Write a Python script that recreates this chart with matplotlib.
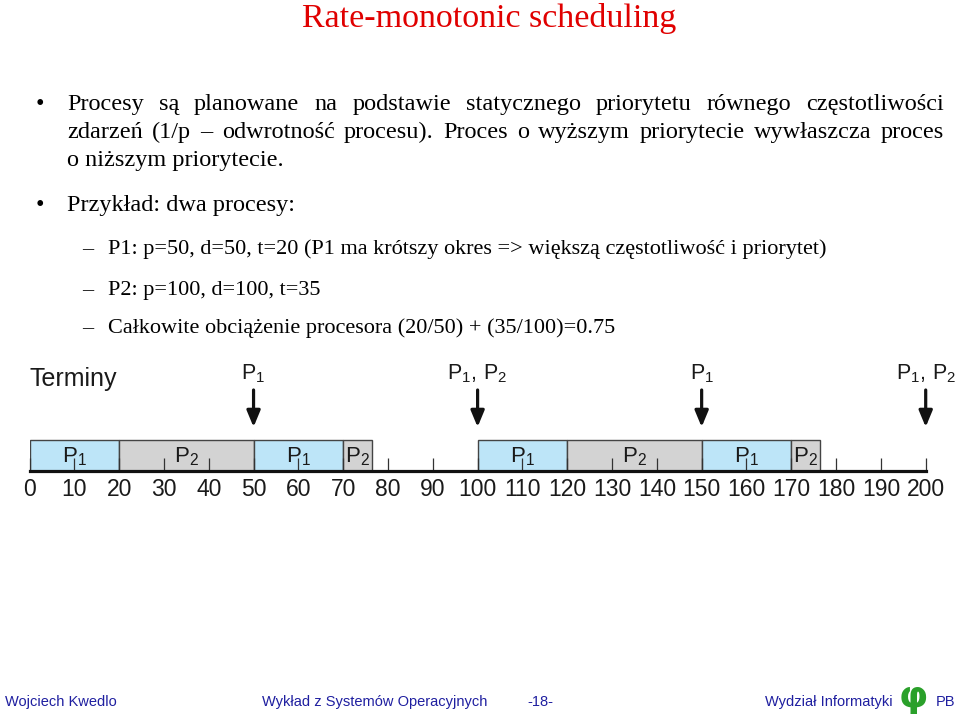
import matplotlib
matplotlib.use("Agg")
import matplotlib.pyplot as plt
from matplotlib.patches import Rectangle

# ---------------- data ----------------
seg_start = [0, 20, 50, 70, 100, 120, 150, 170]
seg_end = [20, 50, 70, 76.5, 120, 150, 170, 176.5]
seg_proc = ["1", "2", "1", "2", "1", "2", "1", "2"]
deadline_t = [50, 100, 150, 200]
deadline_lbl = [["1"], ["1", "2"], ["1"], ["1", "2"]]
tick_vals = list(range(0, 201, 10))
tick_lbls = [str(v) for v in tick_vals]

title = "Rate-monotonic scheduling"
bullet1_lines = [
    "Procesy są planowane na podstawie statycznego priorytetu równego częstotliwości",
    "zdarzeń (1/p – odwrotność procesu). Proces o wyższym priorytecie wywłaszcza proces",
    "o niższym priorytecie.",
]
bullet2 = "Przykład: dwa procesy:"
sub_items = [
    "P1: p=50, d=50, t=20 (P1 ma krótszy okres => większą częstotliwość i priorytet)",
    "P2: p=100, d=100, t=35",
    "Całkowite obciążenie procesora (20/50) + (35/100)=0.75",
]
footer_items = ["Wojciech Kwedlo", "Wykład z Systemów Operacyjnych", "-18-", "Wydział Informatyki", "PB"]

# ---------------- style ----------------
plt.rcParams["mathtext.fontset"] = "custom"
plt.rcParams["mathtext.rm"] = "Liberation Sans"
plt.rcParams["mathtext.it"] = "Liberation Sans:italic"
plt.rcParams["font.family"] = ["Liberation Sans", "DejaVu Sans"]

W, H = 959, 714
fig = plt.figure(figsize=(W / 100, H / 100), dpi=100)
fig.patch.set_facecolor("white")


def fx(x):
    return x / W


def fy(y):
    return 1 - y / H


SERIF = ["Liberation Serif", "DejaVu Serif"]
TXT1 = 17.5
TXT2 = 16
BLUE_BAR = "#bde5f8"
GRAY_BAR = "#d3d3d3"
INK = "#1a1a1a"

# title
fig.text(fx(489), fy(18), title, ha="center", va="center", family=SERIF,
         fontsize=24.5, color="#e00000")

renderer = fig.canvas.get_renderer()


def justify(line, x0, x1, yb, size):
    words = line.split(" ")
    objs = []
    widths = []
    for w in words:
        t = fig.text(0, fy(yb), w, ha="left", va="baseline", family=SERIF, fontsize=size, color="black")
        bb = t.get_window_extent(renderer)
        objs.append(t)
        widths.append(bb.width)
    gap = (x1 - x0 - sum(widths)) / (len(words) - 1)
    x = x0
    for t, wd in zip(objs, widths):
        t.set_x(fx(x))
        x += wd + gap


baselines1 = [110, 138, 166]
fig.text(fx(40), fy(baselines1[0]), "•", ha="center", va="baseline", family=SERIF, fontsize=TXT1)
justify(bullet1_lines[0], 67, 944, baselines1[0], TXT1)
justify(bullet1_lines[1], 67, 944, baselines1[1], TXT1)
fig.text(fx(67), fy(baselines1[2]), bullet1_lines[2], ha="left", va="baseline", family=SERIF, fontsize=TXT1)

fig.text(fx(40), fy(211), "•", ha="center", va="baseline", family=SERIF, fontsize=TXT1)
fig.text(fx(67), fy(211), bullet2, ha="left", va="baseline", family=SERIF, fontsize=TXT1)

for yb, s in zip([254, 295, 333], sub_items):
    fig.text(fx(88), fy(yb), "–", ha="center", va="baseline", family=SERIF, fontsize=TXT2)
    fig.text(fx(108), fy(yb), s, ha="left", va="baseline", family=SERIF, fontsize=TXT2)

# ---------------- gantt ----------------
left_px, right_px = 29.5, 925.7
top_px, base_px = 340, 470.7
ax = fig.add_axes([fx(left_px), fy(base_px), (right_px - left_px) / W, (base_px - top_px) / H])
ax.set_xlim(0, 200)
ax.set_ylim(0, base_px - top_px)
ax.patch.set_alpha(0)
for s in ["top", "left", "right"]:
    ax.spines[s].set_visible(False)
ax.spines["bottom"].set_linewidth(2.3)
ax.spines["bottom"].set_color("#111111")
ax.set_yticks([])
ax.set_xticks(tick_vals)
ax.set_xticklabels(tick_lbls, fontsize=16.5, color=INK)
ax.tick_params(axis="x", direction="in", length=9.5, width=0.9, color="#333333", pad=5.5)

bar_h = base_px - 440
for s0, s1, p in zip(seg_start, seg_end, seg_proc):
    col = BLUE_BAR if p == "1" else GRAY_BAR
    ax.add_patch(Rectangle((s0, 0), s1 - s0, bar_h, facecolor=col, edgecolor="#444444",
                           linewidth=1.0, zorder=1))
    ax.text((s0 + s1) / 2, 8.5, r"$\mathrm{P}_{%s}$" % p, ha="center", va="baseline",
            fontsize=16, color=INK, zorder=3)

for t, lbls in zip(deadline_t, deadline_lbl):
    ax.annotate("", xy=(t, base_px - 427), xytext=(t, base_px - 390),
                arrowprops=dict(arrowstyle="-|>,head_length=0.65,head_width=0.27", lw=2.3,
                                color="#111111", shrinkA=0, shrinkB=0, mutation_scale=15),
                annotation_clip=False)
    lab = ",\\,".join(r"\mathrm{P}_{%s}" % l for l in lbls)
    ax.text(t, base_px - 379, "$" + lab + "$", ha="center", va="baseline", fontsize=15.5,
            color=INK, clip_on=False)

ax.text(0.1, base_px - 386, "Terminy", ha="left", va="baseline", fontsize=18, color=INK)

# ---------------- footer ----------------
FOOT = "#1f1fa0"
fig.text(fx(5), fy(706), footer_items[0], ha="left", va="baseline", fontsize=10.5, color=FOOT)
fig.text(fx(262), fy(706), footer_items[1], ha="left", va="baseline", fontsize=10.5, color=FOOT)
fig.text(fx(527), fy(706), footer_items[2], ha="left", va="baseline", fontsize=10.5, color=FOOT)
fig.text(fx(893), fy(706), footer_items[3], ha="right", va="baseline", fontsize=10.5, color=FOOT)
fig.text(fx(913), fy(697), "φ", ha="center", va="center", fontsize=27, fontweight="bold",
         color="#2aa02a", family=["DejaVu Sans"])
fig.text(fx(936), fy(706), footer_items[4], ha="left", va="baseline", fontsize=10.5, color=FOOT)

fig.savefig("out.png", dpi=100, facecolor="white")
